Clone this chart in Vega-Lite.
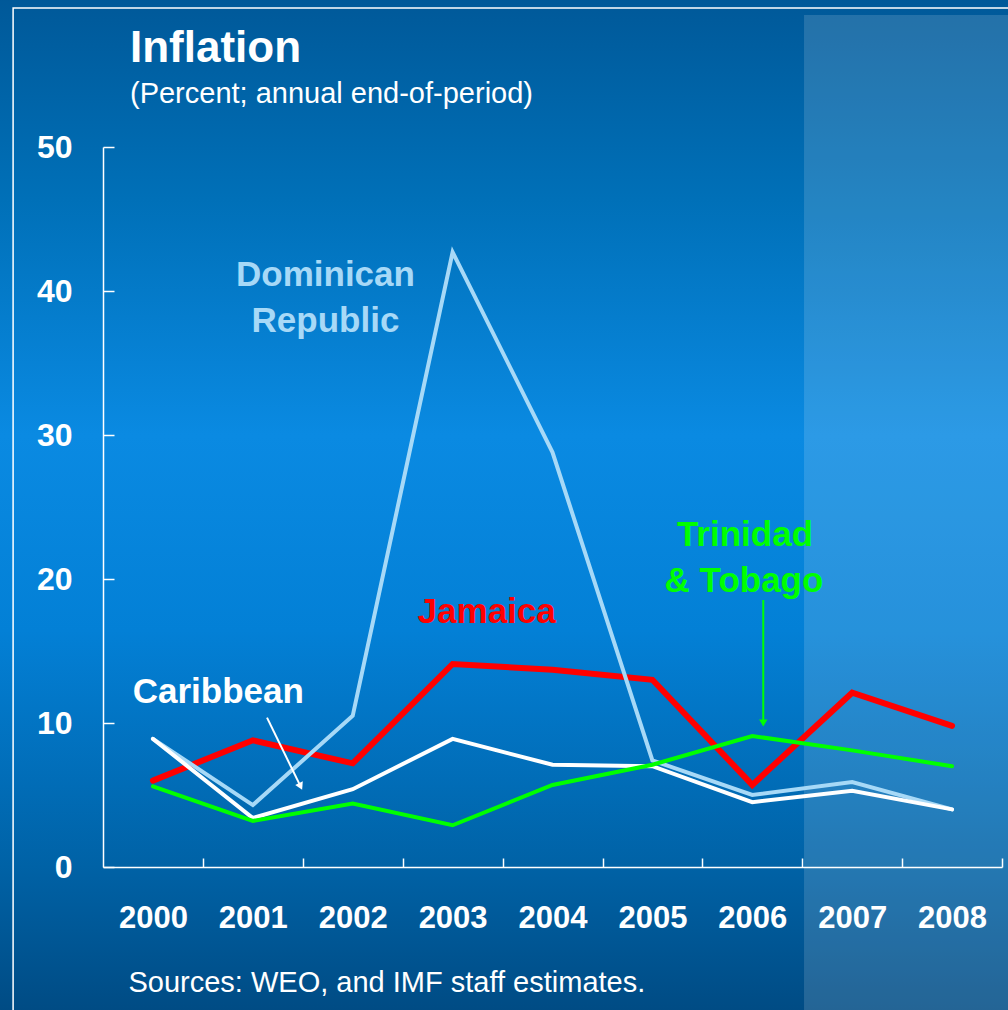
{
  "$schema": "https://vega.github.io/schema/vega-lite/v6.json",
  "width": 899,
  "height": 720,
  "autosize": {"type": "none"},
  "padding": {"left": 103, "top": 147, "right": 6, "bottom": 143},
  "background": "#004e88",
  "config": {
    "view": {"stroke": null},
    "font": "Liberation Sans"
  },
  "datasets": {
    "inflation": [
      {"year": 2000, "series": "Dominican Republic", "value": 8.9},
      {"year": 2001, "series": "Dominican Republic", "value": 4.3},
      {"year": 2002, "series": "Dominican Republic", "value": 10.5},
      {"year": 2003, "series": "Dominican Republic", "value": 42.7},
      {"year": 2004, "series": "Dominican Republic", "value": 28.8},
      {"year": 2005, "series": "Dominican Republic", "value": 7.4},
      {"year": 2006, "series": "Dominican Republic", "value": 5.0},
      {"year": 2007, "series": "Dominican Republic", "value": 5.9},
      {"year": 2008, "series": "Dominican Republic", "value": 4.0},
      {"year": 2000, "series": "Caribbean", "value": 8.9},
      {"year": 2001, "series": "Caribbean", "value": 3.4},
      {"year": 2002, "series": "Caribbean", "value": 5.4},
      {"year": 2003, "series": "Caribbean", "value": 8.9},
      {"year": 2004, "series": "Caribbean", "value": 7.1},
      {"year": 2005, "series": "Caribbean", "value": 7.0},
      {"year": 2006, "series": "Caribbean", "value": 4.5},
      {"year": 2007, "series": "Caribbean", "value": 5.3},
      {"year": 2008, "series": "Caribbean", "value": 4.0},
      {"year": 2000, "series": "Jamaica", "value": 6.0},
      {"year": 2001, "series": "Jamaica", "value": 8.8},
      {"year": 2002, "series": "Jamaica", "value": 7.2},
      {"year": 2003, "series": "Jamaica", "value": 14.1},
      {"year": 2004, "series": "Jamaica", "value": 13.7},
      {"year": 2005, "series": "Jamaica", "value": 13.0},
      {"year": 2006, "series": "Jamaica", "value": 5.7},
      {"year": 2007, "series": "Jamaica", "value": 12.1},
      {"year": 2008, "series": "Jamaica", "value": 9.8},
      {"year": 2000, "series": "Trinidad and Tobago", "value": 5.6},
      {"year": 2001, "series": "Trinidad and Tobago", "value": 3.2},
      {"year": 2002, "series": "Trinidad and Tobago", "value": 4.4},
      {"year": 2003, "series": "Trinidad and Tobago", "value": 2.9},
      {"year": 2004, "series": "Trinidad and Tobago", "value": 5.7},
      {"year": 2005, "series": "Trinidad and Tobago", "value": 7.1},
      {"year": 2006, "series": "Trinidad and Tobago", "value": 9.1},
      {"year": 2007, "series": "Trinidad and Tobago", "value": 8.1},
      {"year": 2008, "series": "Trinidad and Tobago", "value": 7.0}
    ],
    "labels": [
      {"series": "Dominican Republic", "text": "Dominican", "year": 2001.727, "value": 40.37},
      {"series": "Dominican Republic", "text": "Republic", "year": 2001.727, "value": 37.17},
      {"series": "Jamaica", "text": "Jamaica", "year": 2003.341, "value": 16.94},
      {"series": "Trinidad and Tobago", "text": "Trinidad", "year": 2005.927, "value": 22.31},
      {"series": "Trinidad and Tobago", "text": "& Tobago", "year": 2005.917, "value": 19.12},
      {"series": "Caribbean", "text": "Caribbean", "year": 2000.654, "value": 11.37}
    ],
    "arrows": [
      {"series": "Caribbean", "year": 2001.142, "value": 10.37, "year2": 2001.478, "value2": 5.6},
      {"series": "Trinidad and Tobago", "year": 2006.11, "value": 18.54, "year2": 2006.11, "value2": 10.0}
    ]
  },
  "layer": [
    {
      "data": {"values": [{"part": "background"}]},
      "mark": {
        "type": "rect",
        "fill": {
          "gradient": "linear",
          "x1": 0, "y1": 0, "x2": 0, "y2": 1,
          "stops": [
            {"offset": 0, "color": "#005898"},
            {"offset": 0.2, "color": "#0070b8"},
            {"offset": 0.43, "color": "#0a8ae2"},
            {"offset": 0.62, "color": "#0380d6"},
            {"offset": 0.85, "color": "#0062a6"},
            {"offset": 1, "color": "#004a82"}
          ]
        }
      },
      "encoding": {
        "x": {
          "datum": 1998.3, "type": "quantitative",
          "scale": {"domain": [1999.5, 2008.5], "nice": false, "zero": false},
          "axis": {
            "values": [2000, 2001, 2002, 2003, 2004, 2005, 2006, 2007, 2008],
            "format": "d",
            "title": null,
            "grid": false,
            "domainColor": "#ffffff",
            "domainWidth": 1.5,
            "tickColor": "#ffffff",
            "tickWidth": 1.5,
            "tickSize": -9,
            "tickOffset": 50,
            "labelOffset": -50,
            "labelColor": "#ffffff",
            "labelFont": "Liberation Sans",
            "labelFontSize": 31,
            "labelFontWeight": "bold",
            "labelPadding": 45,
            "labelFlush": false,
            "labelOverlap": false,
            "zindex": 2
          }
        },
        "x2": {"datum": 2008.8},
        "y": {
          "datum": 60.6, "type": "quantitative",
          "scale": {"domain": [0, 50], "nice": false},
          "axis": {
            "values": [0, 10, 20, 30, 40, 50],
            "title": null,
            "grid": false,
            "domainColor": "#ffffff",
            "domainWidth": 1.5,
            "tickColor": "#ffffff",
            "tickWidth": 1.5,
            "tickSize": -11,
            "labelColor": "#ffffff",
            "labelFont": "Liberation Sans",
            "labelFontSize": 32,
            "labelFontWeight": "bold",
            "labelPadding": 42,
            "labelFlush": false,
            "labelOverlap": false,
            "zindex": 2
          }
        },
        "y2": {"datum": -10.6}
      }
    },
    {
      "data": {"values": [{"period": "projection", "start": 2006.518, "end": 2008.8, "top": 59.17, "bottom": -10.6}]},
      "mark": {"type": "rect", "fill": "#ffffff", "fillOpacity": 0.14},
      "encoding": {
        "x": {"field": "start", "type": "quantitative"},
        "x2": {"field": "end"},
        "y": {"field": "top", "type": "quantitative"},
        "y2": {"field": "bottom"}
      }
    },
    {
      "data": {"values": [{"part": "frame"}]},
      "mark": {"type": "rect", "fill": null, "stroke": "#ffffff", "strokeWidth": 1.5},
      "encoding": {
        "x": {"datum": 1998.6, "type": "quantitative"},
        "x2": {"datum": 2008.8},
        "y": {"datum": 59.65, "type": "quantitative"},
        "y2": {"datum": -10.6}
      }
    },
    {
      "data": {"name": "inflation"},
      "transform": [{"filter": "datum.series === 'Jamaica'"}],
      "mark": {"type": "line", "strokeWidth": 6, "strokeCap": "round"},
      "encoding": {
        "x": {"field": "year", "type": "quantitative"},
        "y": {"field": "value", "type": "quantitative"},
        "color": {
          "field": "series", "type": "nominal",
          "scale": {"domain": ["Caribbean", "Dominican Republic", "Jamaica", "Trinidad and Tobago"], "range": ["#ffffff", "#a7d9f7", "#ff0000", "#00ff00"]},
          "legend": null
        }
      }
    },
    {
      "data": {"name": "inflation"},
      "transform": [{"filter": "datum.series !== 'Jamaica'"}],
      "mark": {"type": "line", "strokeWidth": 4, "strokeCap": "round"},
      "encoding": {
        "x": {"field": "year", "type": "quantitative"},
        "y": {"field": "value", "type": "quantitative"},
        "color": {"field": "series", "type": "nominal", "legend": null}
      }
    },
    {
      "data": {"name": "arrows"},
      "mark": {"type": "rule", "strokeWidth": 2},
      "encoding": {
        "x": {"field": "year", "type": "quantitative"},
        "x2": {"field": "year2"},
        "y": {"field": "value", "type": "quantitative"},
        "y2": {"field": "value2"},
        "color": {"field": "series", "type": "nominal", "legend": null}
      }
    },
    {
      "data": {"name": "arrows"},
      "transform": [{"filter": "datum.series === 'Caribbean'"}],
      "mark": {"type": "point", "shape": "triangle-down", "filled": true, "size": 70, "angle": -25.6, "opacity": 1},
      "encoding": {
        "x": {"field": "year2", "type": "quantitative"},
        "y": {"field": "value2", "type": "quantitative"},
        "color": {"field": "series", "type": "nominal", "legend": null}
      }
    },
    {
      "data": {"name": "arrows"},
      "transform": [{"filter": "datum.series === 'Trinidad and Tobago'"}],
      "mark": {"type": "point", "shape": "triangle-down", "filled": true, "size": 70, "opacity": 1},
      "encoding": {
        "x": {"field": "year2", "type": "quantitative"},
        "y": {"field": "value2", "type": "quantitative"},
        "color": {"field": "series", "type": "nominal", "legend": null}
      }
    },
    {
      "data": {"name": "labels"},
      "mark": {"type": "text", "font": "Liberation Sans", "fontSize": 35, "fontWeight": "bold", "align": "center", "baseline": "alphabetic"},
      "encoding": {
        "x": {"field": "year", "type": "quantitative"},
        "y": {"field": "value", "type": "quantitative"},
        "text": {"field": "text", "type": "nominal"},
        "color": {"field": "series", "type": "nominal", "legend": null}
      }
    },
    {
      "data": {"values": [{"text": "Inflation", "year": 1999.77, "value": 55.92}]},
      "mark": {"type": "text", "font": "Liberation Sans", "fontSize": 44, "fontWeight": "bold", "align": "left", "baseline": "alphabetic", "color": "#ffffff"},
      "encoding": {
        "x": {"field": "year", "type": "quantitative"},
        "y": {"field": "value", "type": "quantitative"},
        "text": {"field": "text", "type": "nominal"}
      }
    },
    {
      "data": {"values": [
        {"text": "(Percent; annual end-of-period)", "year": 1999.77, "value": 53.03},
        {"text": "Sources: WEO, and IMF staff estimates.", "year": 1999.755, "value": -8.68}
      ]},
      "mark": {"type": "text", "font": "Liberation Sans", "fontSize": 29, "align": "left", "baseline": "alphabetic", "color": "#ffffff"},
      "encoding": {
        "x": {"field": "year", "type": "quantitative"},
        "y": {"field": "value", "type": "quantitative"},
        "text": {"field": "text", "type": "nominal"}
      }
    }
  ]
}
